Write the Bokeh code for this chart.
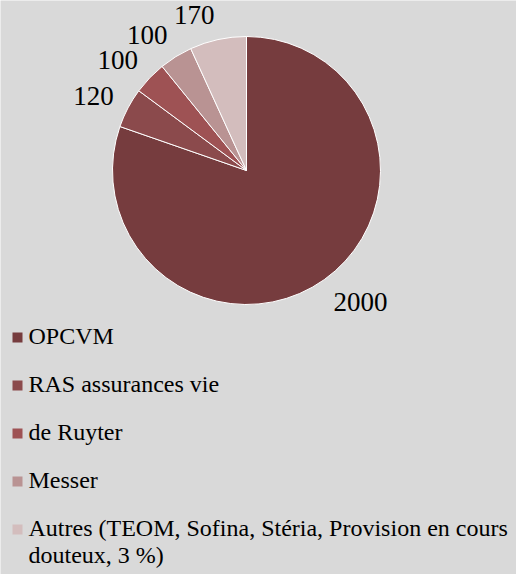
import math
from bokeh.plotting import figure
from bokeh.models import Range1d, ColumnDataSource
from bokeh.core.properties import value
from bokeh.embed import file_html
from bokeh.resources import INLINE

# ---- data ----
categories = ["OPCVM", "RAS assurances vie", "de Ruyter", "Messer",
              "Autres (TEOM, Sofina, Stéria, Provision en cours\ndouteux, 3 %)"]
values = [2000, 120, 100, 100, 170]
labels = ["2000", "120", "100", "100", "170"]
colors = ["#763C3E", "#8B4A4C", "#9E5254", "#B99393", "#D3BDBD"]

# ---- layout (page pixel coordinates, y measured from top of page) ----
W, H = 516, 574
def Y(y_img):
    return H - y_img

cx, cy, R = 246, 170, 134
label_r = R + 16
upper_lift = 9.5
FONT = "Liberation Serif"

total = float(sum(values))
starts, ends, mids = [], [], []
cum = 0.0
for v in values:
    a0 = math.pi / 2 - 2 * math.pi * cum / total
    cum += v
    a1 = math.pi / 2 - 2 * math.pi * cum / total
    starts.append(a0)
    ends.append(a1)
    mids.append((a0 + a1) / 2)

p = figure(width=W, height=H, x_range=Range1d(0, W), y_range=Range1d(0, H),
           output_backend="svg", toolbar_location=None, min_border=0)
p.axis.visible = False
p.grid.visible = False
p.outline_line_color = None
p.background_fill_color = "#D9D9D9"
p.border_fill_color = "#D9D9D9"

src = ColumnDataSource(dict(start=starts, end=ends, color=colors))
p.wedge(x=cx, y=Y(cy), radius=R, start_angle="start", end_angle="end",
        direction="clock", fill_color="color", line_color="white", line_width=1,
        source=src)

# data labels
lx, ly, la, lb = [], [], [], []
for m in mids:
    c, s = math.cos(m), math.sin(m)
    lx.append(cx + label_r * c)
    ly.append(Y(cy) + label_r * s + (upper_lift * s if s >= 0 else 0))
    la.append("left" if c >= 0 else "right")
    lb.append("alphabetic" if s >= 0 else "top")
lsrc = ColumnDataSource(dict(x=lx, y=ly, t=labels, a=la, b=lb))
p.text(x="x", y="y", text="t", text_align="a", text_baseline="b",
       text_font=value(FONT), text_font_size="27px", text_color="#000000",
       source=lsrc)

# legend
leg_base0 = 343
leg_step = 48
sq_x, sq_y, tx, ty = [], [], [], []
for i in range(len(categories)):
    base = leg_base0 + i * leg_step
    sq_x.append(17)
    sq_y.append(Y(base - 6))
    tx.append(28)
    ty.append(Y(base - 21))
p.rect(x=sq_x, y=sq_y, width=10, height=10, fill_color=colors, line_color=None)
p.text(x=tx, y=ty, text=categories, text_align="left", text_baseline="top",
       text_font=value(FONT), text_font_size="24px", text_color="#000000",
       text_line_height=1.05)

open("out.html", "w").write(file_html(p, INLINE))
